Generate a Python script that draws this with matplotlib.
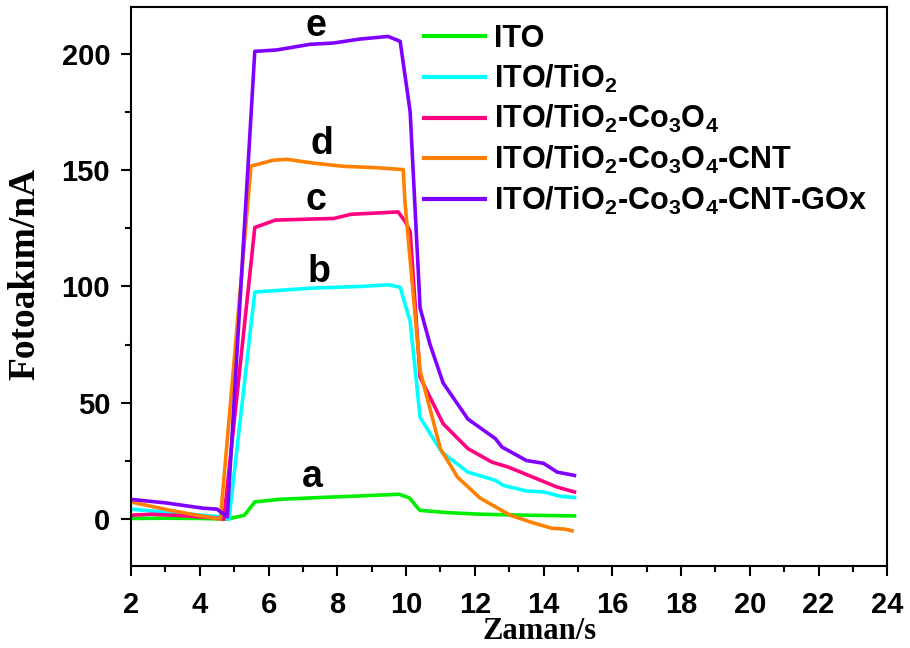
import numpy as np
import matplotlib
matplotlib.use('Agg')
import matplotlib.pyplot as plt
from matplotlib.ticker import MultipleLocator

plt.rcParams['font.family'] = ['Liberation Sans', 'DejaVu Sans']
plt.rcParams['mathtext.fontset'] = 'custom'
plt.rcParams['mathtext.rm'] = 'Liberation Sans:bold'
plt.rcParams['mathtext.bf'] = 'Liberation Sans:bold'
plt.rcParams['mathtext.default'] = 'bf'

# photocurrent transients (time in s, current in nA)
t_ito = [2.0, 3.0, 4.0, 4.8, 5.3, 5.6, 6.3, 7.5, 8.7, 9.8, 10.1, 10.4, 11.2, 12.2, 13.5, 14.9]
i_ito = [0.3, 0.4, 0.3, 0.0, 1.7, 7.4, 8.5, 9.3, 10.0, 10.7, 9.1, 3.8, 2.8, 2.1, 1.7, 1.4]

t_tio2 = [2.0, 3.0, 4.0, 4.6, 4.85, 5.6, 6.5, 7.3, 8.7, 9.5, 9.83, 10.12, 10.41, 11.04, 11.8, 12.6, 12.83, 13.5, 14.0, 14.5, 14.9]
i_tio2 = [4.3, 3.0, 1.8, 1.0, 0.0, 97.6, 98.5, 99.3, 100.0, 100.7, 99.6, 85.0, 43.7, 28.8, 20.2, 16.7, 14.5, 12.1, 11.7, 9.8, 9.3]

t_co = [2.0, 2.6, 3.5, 4.4, 4.7, 5.6, 6.2, 7.9, 8.4, 9.77, 9.97, 10.12, 10.41, 11.08, 11.8, 12.5, 12.97, 13.7, 14.39, 14.9]
i_co = [1.7, 2.1, 1.5, 0.6, 0.0, 125.3, 128.5, 129.2, 131.0, 132.0, 128.0, 123.5, 61.0, 41.0, 30.3, 24.5, 22.4, 18.0, 13.8, 11.7]

t_cnt = [2.0, 3.1, 4.0, 4.6, 5.49, 6.13, 6.53, 7.3, 8.17, 9.15, 9.92, 9.97, 10.41, 11.0, 11.5, 12.16, 13.03, 13.7, 14.24, 14.63, 14.83]
i_cnt = [7.4, 3.9, 1.5, 0.0, 151.7, 154.2, 154.6, 153.0, 151.6, 151.0, 150.2, 136.0, 63.7, 30.3, 18.0, 9.0, 1.7, -1.6, -3.9, -4.3, -5.0]

t_gox = [2.0, 3.0, 4.1, 4.5, 4.8, 5.6, 6.24, 7.2, 7.9, 8.67, 9.48, 9.83, 10.12, 10.41, 10.7, 11.08, 11.8, 12.6, 12.79, 13.5, 14.0, 14.4, 14.9]
i_gox = [8.5, 7.0, 4.7, 4.3, 1.0, 201.0, 201.6, 204.0, 204.6, 206.3, 207.4, 205.3, 175.0, 90.7, 75.0, 58.5, 43.0, 34.6, 31.0, 25.2, 24.0, 20.2, 18.8]

labels = ['ITO', 'ITO/TiO$_2$', 'ITO/TiO$_2$-Co$_3$O$_4$',
          'ITO/TiO$_2$-Co$_3$O$_4$-CNT', 'ITO/TiO$_2$-Co$_3$O$_4$-CNT-GOx']
colors = ['#00ee00', '#00ffff', '#ff0080', '#ff8000', '#8000ff']

# curve letters (baseline positions)
letters = ['a', 'b', 'c', 'd', 'e']
letter_x = [7.27, 7.47, 7.38, 7.56, 7.38]
letter_y = [13.7, 102.1, 132.9, 156.8, 207.7]

fig = plt.figure(figsize=(9.1, 6.48), dpi=100)
ax = fig.add_axes([0.144, 0.127, 0.831, 0.862])

series = [(t_ito, i_ito), (t_tio2, i_tio2), (t_co, i_co), (t_cnt, i_cnt), (t_gox, i_gox)]
for (t, i), lab, c in zip(series, labels, colors):
    ax.plot(t, i, color=c, lw=2.6, label=lab, solid_joinstyle='round')

for s, x, y in zip(letters, letter_x, letter_y):
    ax.text(x, y, s, fontsize=27, fontweight='bold', ha='center', va='baseline')

ax.set_xlim(2, 24)
ax.set_ylim(-20, 220)
ax.xaxis.set_major_locator(MultipleLocator(2))
ax.xaxis.set_minor_locator(MultipleLocator(1))
ax.yaxis.set_major_locator(MultipleLocator(50))
ax.yaxis.set_minor_locator(MultipleLocator(25))
ax.tick_params(which='major', direction='out', length=7, width=1.5, labelsize=21)
ax.tick_params(which='minor', direction='out', length=4, width=1.5)
ax.tick_params(axis='x', which='major', pad=11)
ax.tick_params(axis='y', which='major', pad=8)
for lbl in ax.get_xticklabels() + ax.get_yticklabels():
    lbl.set_fontweight('bold')
for sp in ax.spines.values():
    sp.set_linewidth(1.5)

ax.set_xlabel('Zaman/s', fontsize=22, fontweight='bold', family='Liberation Serif')
ax.xaxis.set_label_coords(0.54, -0.091)
ax.set_ylabel('Fotoakım/nA', fontsize=27, fontweight='bold', family='Liberation Serif')
ax.yaxis.set_label_coords(-0.117, 0.522)

leg = ax.legend(loc='upper left', bbox_to_anchor=(0.359, 1.008), frameon=False,
                prop={'size': 22, 'weight': 'bold'}, handlelength=2.0,
                handletextpad=0.3, labelspacing=0.28, borderpad=0.2)
for h in leg.get_lines():
    h.set_linewidth(3)

fig.savefig('out.png', dpi=100)
